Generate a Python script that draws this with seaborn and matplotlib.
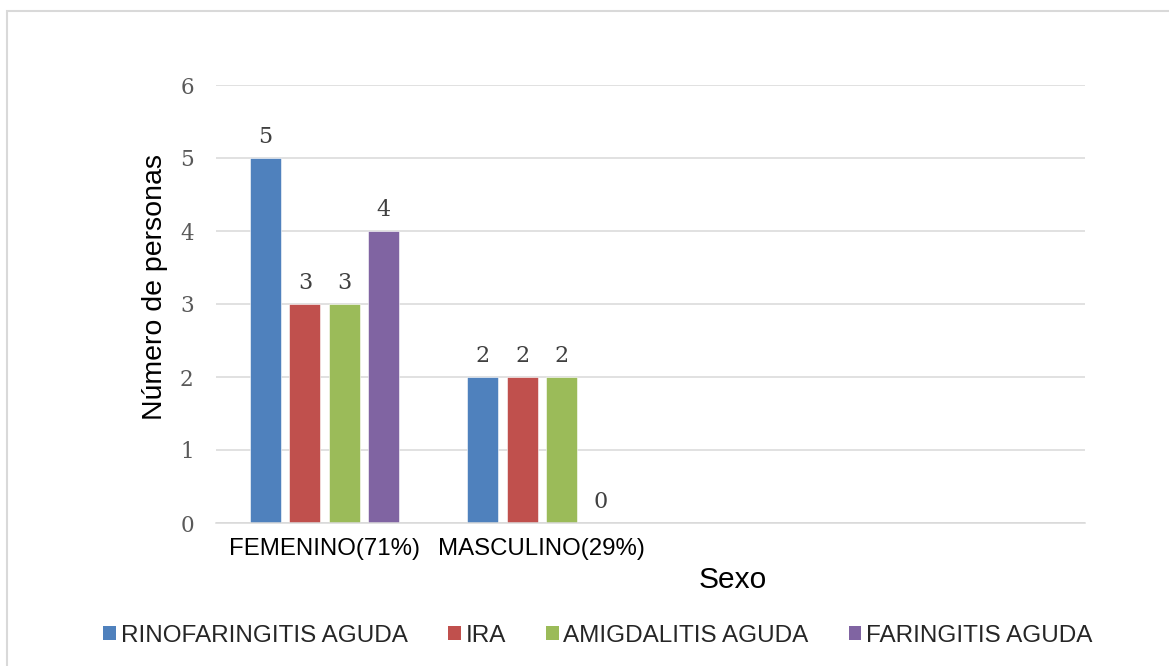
import matplotlib
matplotlib.use("Agg")
import matplotlib.pyplot as plt
from matplotlib.patches import Patch, Rectangle
import seaborn as sns
import pandas as pd

# Data
sexo = ["FEMENINO(71%)", "MASCULINO(29%)"]
diagnosticos = ["RINOFARINGITIS AGUDA", "IRA", "AMIGDALITIS AGUDA", "FARINGITIS AGUDA"]
femenino = [5, 3, 3, 4]
masculino = [2, 2, 2, 0]
colores = ["#4F81BD", "#C0504D", "#9BBB59", "#8064A2"]
yticks = [0, 1, 2, 3, 4, 5, 6]

df = pd.DataFrame({
    "sexo": [sexo[0]] * len(diagnosticos) + [sexo[1]] * len(diagnosticos),
    "dx": diagnosticos * 2,
    "n": femenino + masculino,
})

sns.set_theme(style="white")
plt.rcParams["font.family"] = ["Liberation Sans", "DejaVu Sans"]

W, H = 1169, 666
fig = plt.figure(figsize=(W / 100, H / 100), dpi=100)
ax = fig.add_axes([216 / W, (H - 523) / H, (1085 - 216) / W, (523 - 85) / H])

sns.barplot(data=df, x="sexo", y="n", hue="dx", order=sexo, hue_order=diagnosticos,
            palette=colores, saturation=1, width=0.727, gap=0.21, legend=False,
            edgecolor="white", linewidth=0.4, ax=ax)

# Value labels above each bar
for cont in ax.containers:
    ax.bar_label(cont, fmt="%g", padding=7, fontsize=16, color="#404040",
                 family="DejaVu Serif")

ax.set_xlim(-0.5, 3.5)
ax.set_ylim(0, 6)
ax.set_yticks(yticks)
ax.set_yticklabels([str(v) for v in yticks], family="DejaVu Serif", fontsize=15.5,
                   color="#595959")
ax.tick_params(axis="y", length=0, pad=16)
ax.tick_params(axis="x", length=0, pad=11, labelsize=17.3, labelcolor="black")

ax.yaxis.grid(True, color="#D9D9D9", linewidth=1.1)
ax.set_axisbelow(True)
for s in ["top", "right", "left"]:
    ax.spines[s].set_visible(False)
ax.spines["bottom"].set_color("#D9D9D9")
ax.spines["bottom"].set_linewidth(1.1)

ax.set_xlabel("")
ax.set_ylabel("")
fig.text(733 / W, 1 - 580 / H, "Sexo", ha="center", va="center", fontsize=21.5,
         color="black")
fig.text(155 / W, 1 - 287 / H, "Número de personas", ha="center", va="center",
         rotation=90, fontsize=20.5, color="black")

handles = [Patch(facecolor=c, edgecolor="none") for c in colores]
fig.legend(handles, diagnosticos, loc="center", bbox_to_anchor=(598 / W, 1 - 636 / H),
           ncol=4, frameon=False, fontsize=17.5, handlelength=0.52, handleheight=0.52,
           handletextpad=0.2, columnspacing=1.65)

# Chart frame
fig.patches.append(Rectangle((7 / W, -0.1), 1.2, 1.1 - 11 / H, transform=fig.transFigure,
                             fill=False, edgecolor="#D9D9D9", linewidth=1.5))

fig.savefig("out.png", dpi=100)
